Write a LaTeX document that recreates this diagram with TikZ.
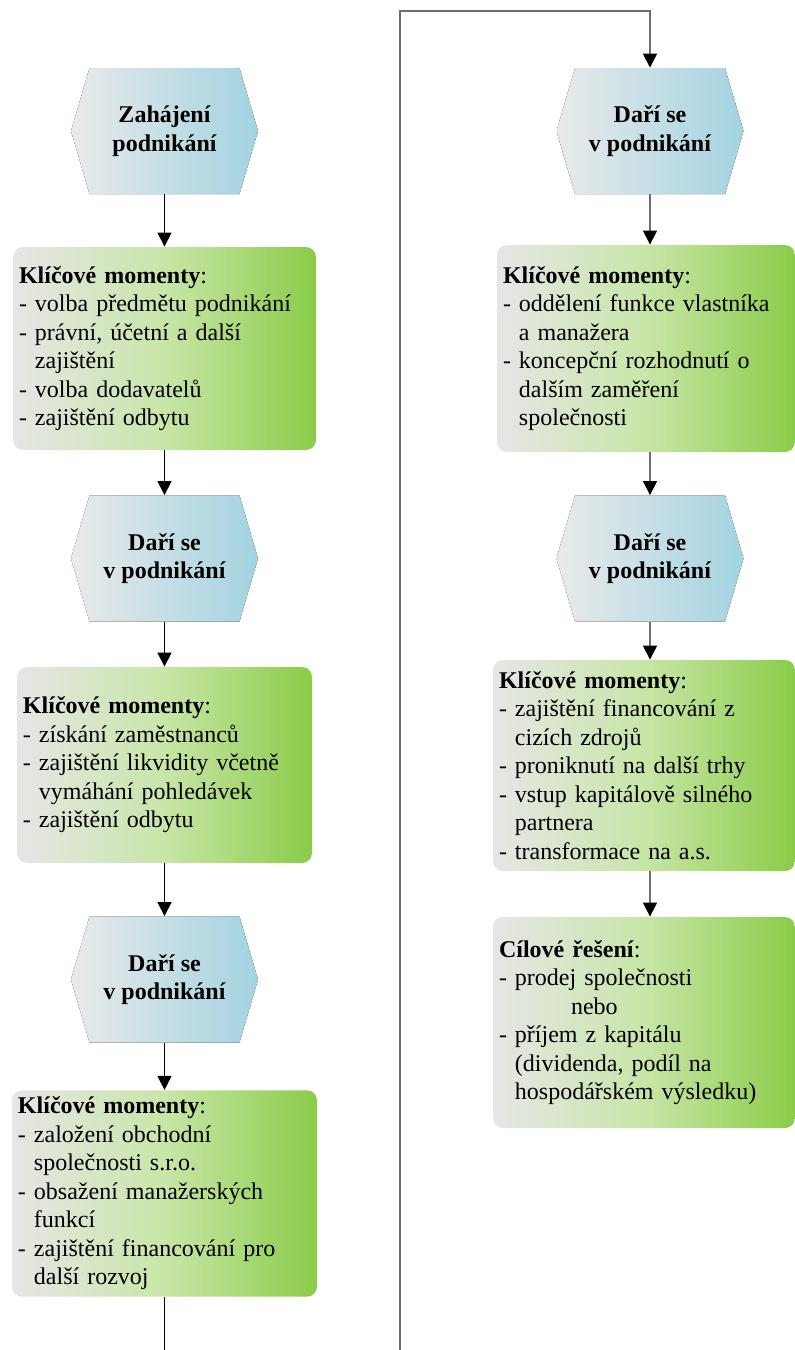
\documentclass[tikz,border=0pt]{standalone}
\usepackage{fontspec}
\setmainfont{Liberation Serif}
\usepackage{tikz}
\usetikzlibrary{arrows.meta, calc}
\definecolor{hexgrey}{RGB}{233,234,234}
\definecolor{hexblue}{RGB}{163,211,225}
\definecolor{keygrey}{RGB}{230,230,230}
\definecolor{keymid}{RGB}{200,230,168}
\definecolor{keygreen}{RGB}{138,204,72}
\definecolor{flowgrey}{RGB}{110,110,110}
\newcommand{\boxfont}{\fontsize{12pt}{14.25pt}\selectfont}
\newcommand{\cont}{\hphantom{-}\ }

\begin{document}
\begin{tikzpicture}[
    x=0.5pt, y=-0.5pt,
    hexstep/.style={rectangle, minimum width=93.5pt, minimum height=63pt, inner sep=0pt, align=center, font=\boxfont\bfseries,
        path picture={\fill[left color=hexgrey, right color=hexblue]
            (path picture bounding box.west) -- ([xshift=9.25pt]path picture bounding box.north west)
            -- ([xshift=-9.25pt]path picture bounding box.north east) -- (path picture bounding box.east)
            -- ([xshift=-9.25pt]path picture bounding box.south east) -- ([xshift=9.25pt]path picture bounding box.south west) -- cycle;}},
    keybox/.style={rectangle, rounded corners=5pt, left color=keygrey, right color=keygreen, middle color=keymid, align=left, inner xsep=3pt, font=\boxfont},
    arrow/.style={-{Triangle[width=7pt, length=7pt]}, line width=0.6pt},
    greyarrow/.style={-{Triangle[width=7pt, length=7pt, color=black]}, line width=0.6pt, draw=flowgrey}
]
    \useasboundingbox (0,0) rectangle (794,1350);

    % Left column
    \node[hexstep] (start) at (164.5,131) {Zahájení\\podnikání};
    \node[keybox, minimum width=151.5pt, minimum height=101.5pt, text width=145.5pt] (key1) at (164.5,348.5)
        {\textbf{Klíčové momenty}:\\- volba předmětu podnikání\\- právní, účetní a další\\\cont zajištění\\- volba dodavatelů\\- zajištění odbytu};
    \node[hexstep] (grow1) at (164.5,558.5) {Daří se\\v podnikání};
    \node[keybox, minimum width=147.5pt, minimum height=98pt, text width=141.5pt] (key2) at (164.5,765)
        {\textbf{Klíčové momenty}:\\- získání zaměstnanců\\- zajištění likvidity včetně\\\cont vymáhání pohledávek\\- zajištění odbytu};
    \node[hexstep] (grow2) at (164.5,979.5) {Daří se\\v podnikání};
    \node[keybox, minimum width=152.5pt, minimum height=102.5pt, text width=146.5pt] (key3) at (164.5,1193.5)
        {\textbf{Klíčové momenty}:\\- založení obchodní\\\cont společnosti s.r.o.\\- obsažení manažerských\\\cont funkcí\\- zajištění financování pro\\\cont další rozvoj};
    \coordinate (leftout) at (164.5,1352);

    % Right column
    \coordinate (rightin) at (400,1352);
    \coordinate (rightturn) at (400,11);
    \node[hexstep] (grow3) at (650,131) {Daří se\\v podnikání};
    \node[keybox, minimum width=149pt, minimum height=103.5pt, text width=143pt] (key4) at (646,348.5)
        {\textbf{Klíčové momenty}:\\- oddělení funkce vlastníka\\\cont a manažera\\- koncepční rozhodnutí o\\\cont dalším zaměření\\\cont společnosti};
    \node[hexstep] (grow4) at (650,558.5) {Daří se\\v podnikání};
    \node[keybox, minimum width=151pt, minimum height=105.5pt, text width=145pt] (key5) at (644,765.5)
        {\textbf{Klíčové momenty}:\\- zajištění financování z\\\cont cizích zdrojů\\- proniknutí na další trhy\\- vstup kapitálově silného\\\cont partnera\\- transformace na a.s.};
    \node[keybox, minimum width=151pt, minimum height=105.5pt, text width=145pt] (goal) at (644,1022.5)
        {\textbf{Cílové řešení}:\\- prodej společnosti\\\hspace*{36pt}nebo\\- příjem z kapitálu\\\cont (dividenda, podíl na\\\cont hospodářském výsledku)};

    % Connections
    \draw[arrow] (start) -- (key1);
    \draw[arrow] (key1) -- (grow1);
    \draw[arrow] (grow1) -- (key2);
    \draw[arrow] (key2) -- (grow2);
    \draw[arrow] (grow2) -- (key3);
    \draw[line width=0.6pt] (key3) -- (leftout);
    \draw[greyarrow] (rightin) -- (rightturn) -| (grow3.north);
    \draw[greyarrow] (grow3) -- (grow3 |- key4.north);
    \draw[greyarrow] (grow3 |- key4.south) -- (grow4);
    \draw[greyarrow] (grow4) -- (grow4 |- key5.north);
    \draw[greyarrow] (grow4 |- key5.south) -- (grow4 |- goal.north);
\end{tikzpicture}
\end{document}
